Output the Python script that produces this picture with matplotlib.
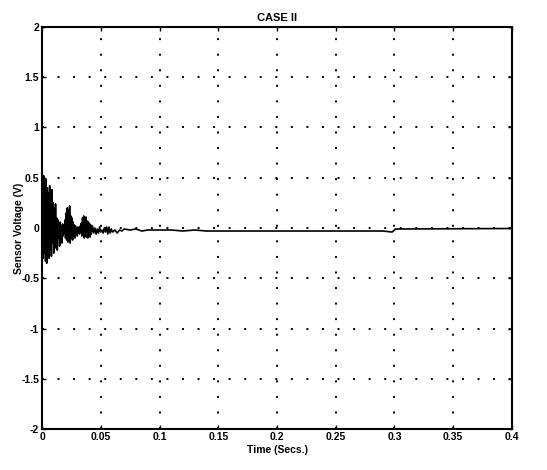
import matplotlib
matplotlib.use("Agg")
import matplotlib.pyplot as plt

# Signal samples (time in s, voltage in V)
time_s = [
    0.0, 0.0005, 0.001, 0.0015, 0.002, 0.0025, 0.003, 0.0035, 0.004, 0.0045,
    0.005, 0.0055, 0.006, 0.0065, 0.007, 0.0075, 0.008, 0.0085, 0.009, 0.0095,
    0.010, 0.0105, 0.011, 0.0115, 0.012, 0.0125, 0.013, 0.0135, 0.014, 0.0145,
    0.015, 0.0155, 0.016, 0.0165, 0.017, 0.0175, 0.018, 0.0185, 0.019, 0.0195,
    0.020, 0.0205, 0.021, 0.0215, 0.022, 0.0225, 0.023, 0.0235, 0.024, 0.0245,
    0.025, 0.0255, 0.026, 0.0265, 0.027, 0.0275, 0.028, 0.0285, 0.029, 0.0295,
    0.030, 0.0305, 0.031, 0.0315, 0.032, 0.0325, 0.033, 0.0335, 0.034, 0.0345,
    0.035, 0.0355, 0.036, 0.0365, 0.037, 0.0375, 0.038, 0.0385, 0.039, 0.0395,
    0.040, 0.0405, 0.041, 0.0415, 0.042, 0.043, 0.044, 0.045, 0.046, 0.047,
    0.048, 0.049, 0.050, 0.051, 0.052, 0.053, 0.054, 0.055, 0.056, 0.057,
    0.058, 0.059, 0.060, 0.062, 0.064, 0.066, 0.068, 0.070, 0.075, 0.080,
    0.085, 0.090, 0.100, 0.110, 0.120, 0.130, 0.140, 0.200, 0.250, 0.290,
    0.298, 0.301, 0.400,
]
voltage_v = [
    0.00, 0.45, -0.30, 0.52, -0.25, 0.30, -0.33, 0.48, -0.35, 0.40,
    -0.20, 0.35, -0.30, 0.42, -0.22, 0.30, -0.28, 0.38, -0.15, 0.25,
    -0.25, 0.20, -0.20, 0.24, -0.12, 0.10, -0.22, 0.08, -0.10, 0.05,
    -0.18, 0.06, -0.12, 0.02, -0.15, 0.04, -0.08, 0.00, -0.05, 0.08,
    -0.10, 0.15, -0.12, 0.20, -0.14, 0.18, -0.08, 0.22, -0.15, 0.12,
    -0.10, 0.10, -0.12, 0.06, -0.08, 0.03, -0.10, 0.02, -0.06, 0.00,
    -0.08, 0.01, -0.05, -0.02, -0.06, 0.02, -0.04, 0.05, -0.08, 0.10,
    -0.06, 0.12, -0.10, 0.08, -0.08, 0.11, -0.09, 0.07, -0.10, 0.06,
    -0.07, 0.04, -0.09, 0.03, -0.06, 0.02, -0.05, 0.00, -0.06, -0.01,
    -0.05, 0.01, -0.04, -0.02, -0.05, 0.00, -0.04, 0.01, -0.06, 0.01,
    -0.05, -0.01, -0.04, -0.02, -0.05, -0.02, -0.03, -0.01, -0.02, -0.01,
    -0.03, -0.02, -0.02, -0.02, -0.03, -0.02, -0.03, -0.03, -0.03, -0.03,
    -0.04, -0.01, -0.005,
]

x_ticks = [0, 0.05, 0.1, 0.15, 0.2, 0.25, 0.3, 0.35, 0.4]
x_tick_labels = ["0", "0.05", "0.1", "0.15", "0.2", "0.25", "0.3", "0.35", "0.4"]
y_ticks = [-2, -1.5, -1, -0.5, 0, 0.5, 1, 1.5, 2]
y_tick_labels = ["-2", "-1.5", "-1", "-0.5", "0", "0.5", "1", "1.5", "2"]

plt.rcParams['font.family'] = ['Liberation Sans', 'DejaVu Sans']

fig = plt.figure(figsize=(5.47, 4.70), dpi=100)
ax = fig.add_axes([0.0768, 0.0872, 0.8592, 0.8554])

ax.plot(time_s, voltage_v, color="black", linewidth=1.2)

ax.set_xlim(0, 0.4)
ax.set_ylim(-2, 2)
ax.set_xticks(x_ticks)
ax.set_xticklabels(x_tick_labels, fontsize=7.5, fontweight="bold")
ax.set_yticks(y_ticks)
ax.set_yticklabels(y_tick_labels, fontsize=7.5, fontweight="bold")
ax.tick_params(direction="in", length=3, width=1, top=True, right=True, pad=2)
ax.grid(True, color="black", linestyle=(0, (1, 7)), linewidth=1.4)

for s in ax.spines.values():
    s.set_linewidth(1.5)

ax.set_title("CASE II", fontsize=8, fontweight="bold", pad=4)
ax.set_xlabel("Time (Secs.)", fontsize=7.5, fontweight="bold", labelpad=2)
ax.set_ylabel("Sensor Voltage (V)", fontsize=7.5, fontweight="bold", labelpad=-2)

fig.savefig("out.png", dpi=100, facecolor="white")
